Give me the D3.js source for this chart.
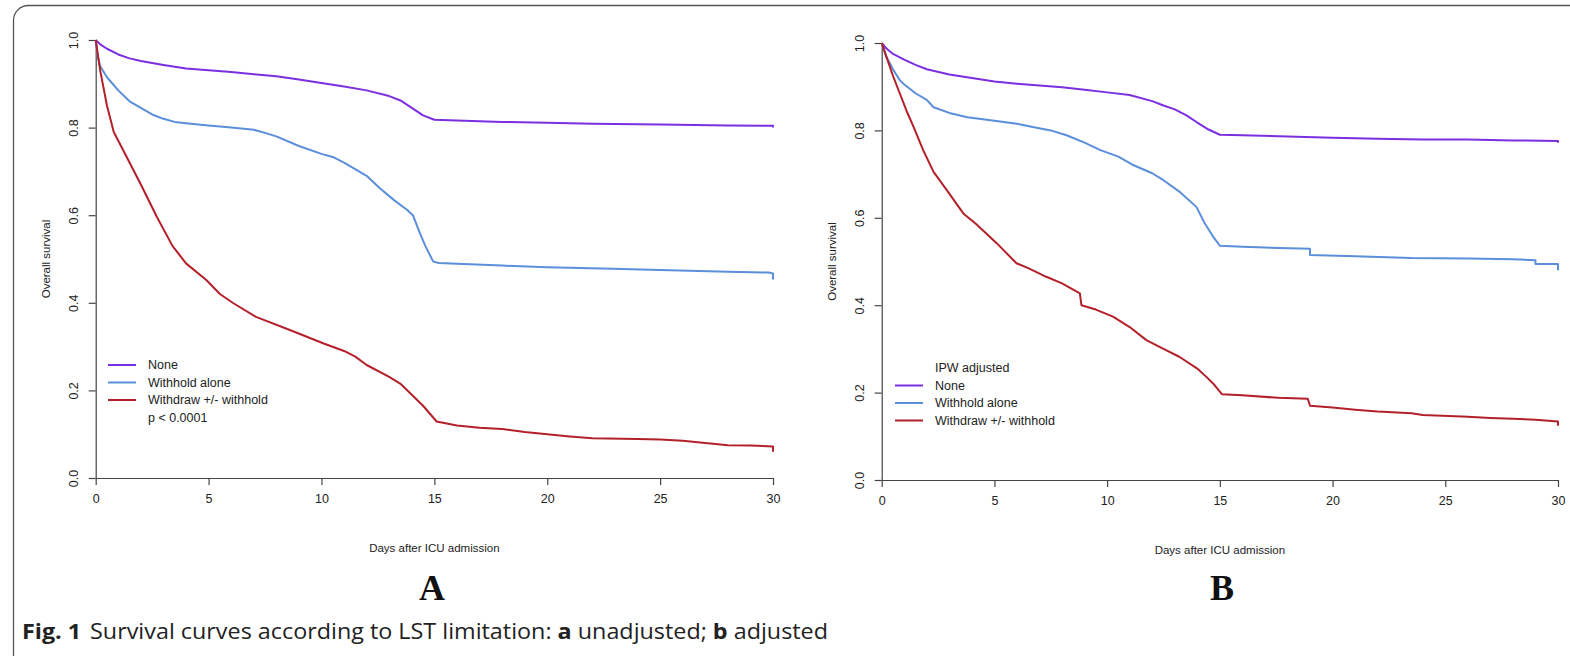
<!DOCTYPE html>
<html>
<head>
<meta charset="utf-8">
<script src="https://d3js.org/d3.v7.min.js"></script>
<style>
  body { margin: 0; background: #fff; }
  svg { display: block; }
</style>
</head>
<body>
<div id="chart"></div>
<script>
var dayTicks = [0, 5, 10, 15, 20, 25, 30];
var survTicks = [0.0, 0.2, 0.4, 0.6, 0.8, 1.0];
var groups = ["None", "Withhold alone", "Withdraw +/- withhold"];
var groupColors = ["#7b2fe0", "#5b8edb", "#b3202a"];

// panel A, unadjusted (day, survival)
var unadjNone = [[0,1],[0.2,0.99],[0.5,0.98],[1,0.967],[1.5,0.958],[2,0.952],[3,0.943],[4,0.935],[5,0.931],[6,0.927],[7,0.922],[8,0.917],[9,0.91],[10,0.902],[11,0.894],[12,0.885],[13,0.872],[13.5,0.862],[14,0.845],[14.5,0.828],[15,0.818],[16,0.816],[18,0.813],[20,0.811],[22,0.809],[25,0.807],[28,0.805],[30,0.804],[30,0.8]];
var unadjWithhold = [[0,1],[0.1,0.96],[0.2,0.94],[0.5,0.915],[1,0.885],[1.5,0.86],[2,0.845],[2.5,0.83],[3,0.82],[3.5,0.813],[4,0.81],[5,0.805],[6,0.8],[7,0.795],[7.5,0.788],[8,0.78],[9,0.758],[10,0.74],[10.5,0.733],[11,0.72],[12,0.69],[12.6,0.661],[13.2,0.635],[13.8,0.612],[14.05,0.6],[14.35,0.56],[14.6,0.53],[14.95,0.494],[15.2,0.491],[16,0.489],[18,0.485],[20,0.481],[22.9,0.478],[25,0.475],[28,0.471],[29.8,0.469],[30,0.467],[30,0.453]];
var unadjWithdraw = [[0,1],[0.2,0.93],[0.5,0.85],[0.8,0.79],[1.2,0.75],[1.6,0.71],[2,0.67],[2.7,0.597],[3.4,0.53],[4,0.49],[4.9,0.452],[5.5,0.42],[6.1,0.399],[7.1,0.368],[8.6,0.338],[10.1,0.307],[11,0.29],[11.5,0.277],[12,0.258],[13,0.231],[13.5,0.215],[14,0.19],[14.5,0.165],[15.1,0.129],[16,0.12],[17,0.115],[18,0.112],[19,0.105],[20,0.1],[21,0.095],[22,0.091],[24,0.089],[25,0.088],[26,0.085],[27,0.08],[28,0.075],[29,0.074],[30,0.072],[30,0.06]];

// panel B, IPW adjusted
var adjNone = [[0,1],[0.2,0.988],[0.5,0.975],[1,0.962],[1.5,0.95],[2,0.94],[3,0.928],[4,0.92],[5,0.912],[6,0.907],[7,0.903],[8,0.899],[9,0.893],[10,0.887],[11,0.881],[12,0.867],[12.5,0.857],[13,0.848],[13.5,0.835],[14,0.818],[14.5,0.802],[15,0.79],[16,0.789],[18,0.786],[20,0.783],[22,0.781],[24,0.779],[26,0.779],[28,0.777],[30,0.776],[30,0.772]];
var adjWithhold = [[0,1],[0.2,0.969],[0.5,0.94],[0.8,0.915],[1,0.905],[1.5,0.885],[2,0.87],[2.3,0.853],[3,0.84],[3.8,0.83],[5,0.822],[6,0.815],[6.7,0.808],[7.5,0.8],[8.2,0.789],[9,0.772],[9.7,0.755],[10.5,0.74],[11.1,0.722],[12,0.702],[12.5,0.686],[13.2,0.66],[13.96,0.625],[14.3,0.59],[14.7,0.557],[15,0.536],[16,0.534],[17.6,0.531],[19,0.529],[19,0.515],[21,0.512],[23.5,0.508],[26,0.507],[28,0.505],[29,0.503],[29,0.494],[30,0.494],[30,0.48]];
var adjWithdraw = [[0,1],[0.2,0.97],[0.5,0.925],[0.8,0.885],[1.1,0.845],[1.4,0.81],[1.84,0.755],[2.3,0.705],[2.88,0.664],[3.62,0.61],[4.2,0.585],[5.1,0.542],[5.98,0.496],[6.5,0.485],[7.3,0.465],[8,0.45],[8.79,0.427],[8.86,0.4],[9.5,0.39],[10.26,0.374],[11,0.35],[11.74,0.32],[12.5,0.3],[13.2,0.282],[14,0.255],[14.4,0.236],[14.7,0.221],[15.1,0.196],[16,0.194],[17.6,0.188],[18.9,0.186],[19,0.17],[20,0.166],[21,0.161],[22,0.157],[23.5,0.153],[24,0.149],[26,0.145],[27,0.142],[28,0.14],[29,0.138],[30,0.134],[30,0.124]];

var W = 1570, H = 656;
var svg = d3.select("#chart").append("svg")
    .attr("width", W)
    .attr("height", H);

// frame of the figure box
svg.append("rect")
    .attr("x", 13.5).attr("y", 5.5)
    .attr("width", 1620).attr("height", 700)
    .attr("rx", 15).attr("ry", 15)
    .attr("fill", "none")
    .attr("stroke", "#555")
    .attr("stroke-width", 1.3);

function drawPanel(cfg) {
  var x = d3.scaleLinear().domain([0, 30]).range([cfg.left, cfg.right]);
  var y = d3.scaleLinear().domain([0, 1]).range([cfg.bottom, cfg.top]);
  var g = svg.append("g");

  var xAxis = g.append("g")
      .attr("transform", "translate(0," + cfg.bottom + ")")
      .call(d3.axisBottom(x).tickValues(dayTicks).tickSize(7).tickSizeOuter(0).tickPadding(9));
  var yAxis = g.append("g")
      .attr("transform", "translate(" + cfg.left + ",0)")
      .call(d3.axisLeft(y).tickValues(survTicks).tickSize(7).tickSizeOuter(0).tickFormat(d3.format(".1f")));
  [xAxis, yAxis].forEach(function(a) {
    a.select(".domain").attr("stroke", "#444").attr("stroke-width", 1.2);
    a.selectAll(".tick line").attr("stroke", "#444").attr("stroke-width", 1.2);
    a.selectAll("text")
      .attr("fill", "#222")
      .style("font-family", "Liberation Sans, Arial, sans-serif")
      .style("font-size", "12.5px");
  });
  yAxis.selectAll(".tick text")
      .attr("transform", "rotate(-90)")
      .attr("x", 0).attr("y", -22)
      .attr("dy", "0.35em")
      .style("text-anchor", "middle");

  var line = d3.line()
      .x(function(d) { return x(d[0]); })
      .y(function(d) { return y(d[1]); });
  cfg.series.forEach(function(s, i) {
    g.append("path")
      .datum(s)
      .attr("d", line)
      .attr("fill", "none")
      .attr("stroke", groupColors[i])
      .attr("stroke-width", 2)
      .attr("stroke-linejoin", "round");
  });

  g.append("text")
    .attr("x", (cfg.left + cfg.right) / 2)
    .attr("y", cfg.bottom + 74)
    .attr("text-anchor", "middle")
    .style("font-family", "Liberation Sans, Arial, sans-serif")
    .style("font-size", "11.5px")
    .attr("fill", "#222")
    .text("Days after ICU admission");

  g.append("text")
    .attr("transform", "translate(" + (cfg.left - 46) + "," + ((cfg.top + cfg.bottom) / 2) + ") rotate(-90)")
    .attr("text-anchor", "middle")
    .style("font-family", "Liberation Sans, Arial, sans-serif")
    .style("font-size", "11.5px")
    .attr("fill", "#222")
    .text("Overall survival");

  // legend
  var lg = g.append("g");
  var rows = [];
  if (cfg.legendTitle) rows.push({label: cfg.legendTitle, color: null});
  groups.forEach(function(n, i) { rows.push({label: n, color: groupColors[i]}); });
  if (cfg.legendNote) rows.push({label: cfg.legendNote, color: null});
  rows.forEach(function(r, i) {
    var yy = cfg.legendY + i * 17.5;
    if (r.color) {
      lg.append("line")
        .attr("x1", cfg.legendX).attr("x2", cfg.legendX + 28)
        .attr("y1", yy).attr("y2", yy)
        .attr("stroke", r.color).attr("stroke-width", 2);
    }
    lg.append("text")
      .attr("x", cfg.legendX + 40)
      .attr("y", yy)
      .attr("dy", "0.35em")
      .style("font-family", "Liberation Sans, Arial, sans-serif")
      .style("font-size", "12.5px")
      .attr("fill", "#222")
      .text(r.label);
  });

  g.append("text")
    .attr("x", cfg.letterX)
    .attr("y", 600)
    .attr("text-anchor", "middle")
    .style("font-family", "Liberation Serif, Times New Roman, serif")
    .style("font-weight", "bold")
    .style("font-size", "36px")
    .attr("fill", "#111")
    .text(cfg.letter);
}

drawPanel({
  left: 95.7, right: 773, top: 40, bottom: 478,
  series: [unadjNone, unadjWithhold, unadjWithdraw],
  legendX: 108, legendY: 365, legendNote: "p < 0.0001",
  letter: "A", letterX: 432
});
drawPanel({
  left: 881.7, right: 1558, top: 43, bottom: 480,
  series: [adjNone, adjWithhold, adjWithdraw],
  legendX: 895, legendY: 368, legendTitle: "IPW adjusted",
  letter: "B", letterX: 1222
});

// caption
var cap = svg.append("text")
    .attr("x", 22)
    .attr("y", 639)
    .attr("textLength", 806)
    .attr("lengthAdjust", "spacingAndGlyphs")
    .style("font-family", "Liberation Sans Narrow, Open Sans, sans-serif")
    .style("font-size", "21px")
    .attr("fill", "#222");
cap.append("tspan").style("font-weight", "bold").text("Fig. 1");
cap.append("tspan").attr("dx", 8).text("Survival curves according to LST limitation: ");
cap.append("tspan").style("font-weight", "bold").text("a");
cap.append("tspan").text(" unadjusted; ");
cap.append("tspan").style("font-weight", "bold").text("b");
cap.append("tspan").text(" adjusted");
</script>
</body>
</html>
